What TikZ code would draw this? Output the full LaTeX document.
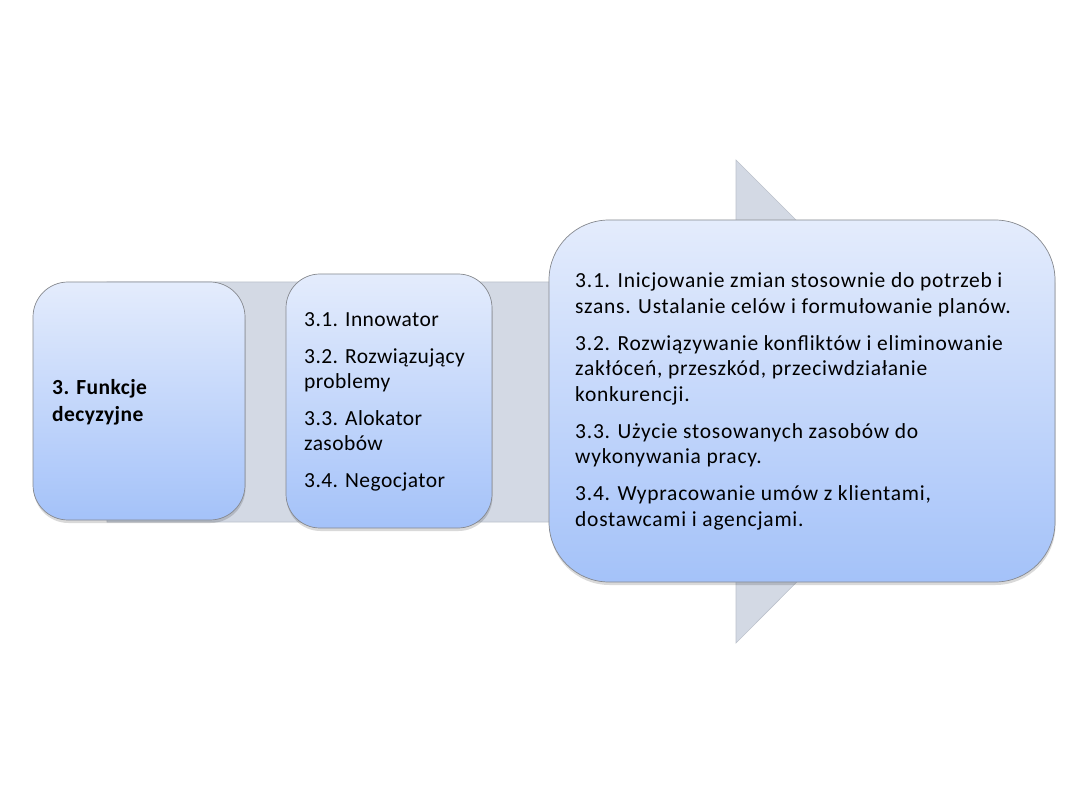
\documentclass[tikz,border=0pt]{standalone}
\usepackage{fontspec}
\setmainfont{Carlito}[LetterSpace=2]
\newfontfamily\widefont{Carlito}[LetterSpace=3.5]
\definecolor{boxtop}{HTML}{E4ECFC}
\definecolor{boxbot}{HTML}{A4C2F9}
\definecolor{boxline}{HTML}{86898F}
\definecolor{arrowfill}{HTML}{D3D9E4}
\definecolor{arrowline}{HTML}{BCC2CC}
\tikzset{
  boxshape/.style={draw=boxline, line width=0.7pt, top color=boxtop, bottom color=boxbot},
  boxshadow/.style={fill=black, opacity=0.15},
  txt/.style={anchor=base west, inner sep=0pt, font=\fontsize{21.5}{25.5}\selectfont, text=black},
}
\begin{document}
\begin{tikzpicture}[x=1pt,y=-1pt]
\useasboundingbox (0,0) rectangle (1080,810);
\fill[white] (0,0) rectangle (1080,810);
% background arrow
\draw[fill=arrowfill, draw=arrowline, line width=0.6pt]
  (107,282) -- (736,282) -- (736,160) -- (977,401) -- (736,643) -- (736,522) -- (107,522) -- cycle;
% shadows
\fill[boxshadow, rounded corners=35pt] (33.5,285) rectangle (245.5,523);
\fill[boxshadow, rounded corners=34pt] (286.5,277) rectangle (492.5,531);
\fill[boxshadow, rounded corners=60pt] (549.5,223) rectangle (1055.5,585);
% boxes
\node[boxshape, rounded corners=35pt, minimum width=212pt, minimum height=238pt, inner sep=0pt] (b1) at (139,401) {};
\node[boxshape, rounded corners=34pt, minimum width=206pt, minimum height=254pt, inner sep=0pt] (b2) at (389,401) {};
\node[boxshape, rounded corners=60pt, minimum width=506pt, minimum height=362pt, inner sep=0pt] (b3) at (802,401) {};
% texts
\node[txt] (t1) at (52,395) {\fontsize{21.5}{27}\selectfont\begin{tabular}[t]{@{}l@{}}\bfseries 3. Funkcje\\ \bfseries decyzyjne\end{tabular}};
\node[txt] (t2) at (304,327) {\fontsize{21.5}{25}\selectfont\begin{tabular}[t]{@{}l@{}}3.1. Innowator\\[12pt]
3.2. Rozwiązujący\\ problemy\\[12pt]
3.3. Alokator\\ zasobów\\[12pt]
3.4. Negocjator\end{tabular}};
\node[txt] (t3) at (575,288) {\widefont\fontsize{21.5}{25.5}\selectfont\begin{tabular}[t]{@{}l@{}}3.1. Inicjowanie zmian stosownie do potrzeb i\\ szans. Ustalanie celów i formułowanie planów.\\[11.5pt]
3.2. Rozwiązywanie konfliktów i eliminowanie\\ zakłóceń, przeszkód, przeciwdziałanie\\ konkurencji.\\[11.5pt]
3.3. Użycie stosowanych zasobów do\\ wykonywania pracy.\\[11.5pt]
3.4. Wypracowanie umów z klientami,\\ dostawcami i agencjami.\end{tabular}};
\end{tikzpicture}
\end{document}
